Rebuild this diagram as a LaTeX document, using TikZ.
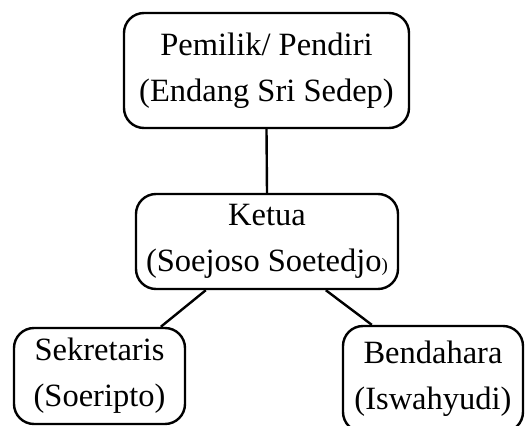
\documentclass[tikz,border=0pt]{standalone}
\usepackage{fontspec}
\setmainfont{Liberation Serif}
\usepackage{tikz}
\usetikzlibrary{calc}

\begin{document}
\begin{tikzpicture}[x=1pt,y=-1pt]
  \useasboundingbox (0,0) rectangle (528,426);
  \begin{scope}
    % Define box and line style
    \tikzset{box/.style={draw=black, line width=2.4pt, rounded corners=20pt, fill=none, align=center, inner sep=0pt, font=\fontsize{32.5}{46}\selectfont}}
    \tikzset{link/.style={draw=black, line width=2.4pt}}
    % Clip the right box at the page edge
    \clip (0,0) rectangle (528,426);
    % The four boxes
    \node[box, minimum width=285pt, minimum height=115pt] (owner) at (266.5,70.5) {Pemilik/ Pendiri\\(Endang Sri Sedep)};
    \node[box, minimum width=262pt, minimum height=95pt] (chair) at (267,241.5) {Ketua\\(Soejoso Soetedjo{\fontsize{19}{19}\selectfont)}};
    \node[box, minimum width=171pt, minimum height=96pt] (secr) at (99.5,376) {Sekretaris\\(Soeripto)};
    \node[box, minimum width=180pt, minimum height=106pt] (treas) at (433,379) {Bendahara\\(Iswahyudi)};
    % Lines between them
    \draw[link] (owner.south) -- (chair.north);
    \draw[link] ([xshift=71pt]chair.south west) -- ([xshift=148pt]secr.north west);
    \draw[link] ([xshift=191pt]chair.south west) -- ([xshift=30pt]treas.north west);
  \end{scope}
\end{tikzpicture}
\end{document}
